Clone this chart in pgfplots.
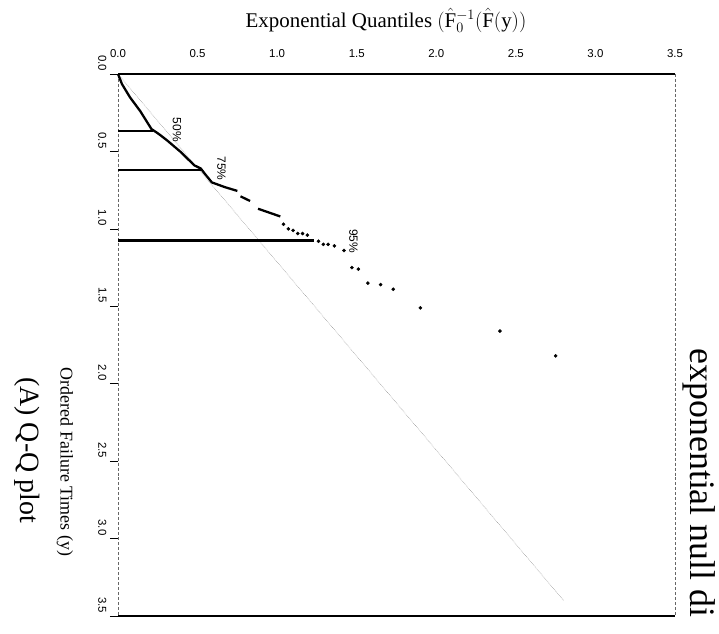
\documentclass[border=0pt]{standalone}
\usepackage{pgfplots}
\pgfplotsset{compat=1.18}
\usepackage{fontspec}
\setmainfont{Liberation Serif}
\setmathrm{Liberation Serif}
\newfontfamily\sansf{Liberation Sans}
\begin{document}
\begin{tikzpicture}
\useasboundingbox (0bp,0bp) rectangle (719bp,-634bp);
\clip (0bp,0bp) rectangle (719bp,-634bp);
\begin{axis}[
  at={(118bp,-74bp)}, anchor=north west,
  width=557bp, height=542bp, scale only axis,
  xmin=0, xmax=3.5, ymin=0, ymax=3.5,
  y dir=reverse,
  separate axis lines,
  x axis line style={line width=1.4pt, black},
  y axis line style={densely dashed, line width=0.5pt, gray!80!black},
  xtick={0,0.5,1,1.5,2,2.5,3,3.5},
  xticklabels={0.0,0.5,1.0,1.5,2.0,2.5,3.0,3.5},
  ytick={0,0.5,1,1.5,2,2.5,3,3.5},
  yticklabels={0.0,0.5,1.0,1.5,2.0,2.5,3.0,3.5},
  xticklabel pos=upper,
  xtick pos=upper,
  ytick pos=left,
  x tick style={draw=none},
  y tick style={black, line width=0.6pt},
  tick align=outside,
  major tick length=8bp,
  xticklabel style={font=\sansf\fontsize{11.5}{12}\selectfont, yshift=5bp},
  yticklabel style={font=\sansf\fontsize{11.5}{12}\selectfont, rotate=-90, anchor=north, xshift=-11bp},
  clip=false,
]
% reference line
\addplot[gray, densely dotted, line width=0.5pt] coordinates {(0,0) (2.80,3.40)};
% percentile lines
\addplot[black, line width=2.2pt] coordinates {(0,0.37) (0.22,0.37)};
\addplot[black, line width=2.2pt] coordinates {(0,0.62) (0.53,0.62)};
\addplot[black, line width=2.2pt] coordinates {(0,1.075) (1.23,1.075)};
% dense part of the quantile curve
\addplot[black, line width=2.3pt] coordinates {
(0,0) (0.025,0.065) (0.075,0.15) (0.14,0.24) (0.21,0.355) (0.26,0.39) (0.31,0.43)
(0.39,0.50) (0.48,0.59) (0.52,0.61) (0.55,0.65) (0.59,0.70) (0.67,0.73) (0.75,0.755)};
\addplot[black, line width=2.3pt] coordinates {(0.77,0.79) (0.83,0.82)};
\addplot[black, line width=2.3pt] coordinates {(0.88,0.87) (0.95,0.895) (1.02,0.92)};
% sparse tail
\addplot[only marks, mark=*, mark size=1.6bp, black] coordinates {
(1.04,0.97) (1.07,1.00) (1.10,1.01) (1.13,1.03) (1.16,1.03) (1.19,1.04)
(1.26,1.08) (1.29,1.10) (1.32,1.10) (1.36,1.11) (1.42,1.14)
(1.47,1.25) (1.51,1.26) (1.57,1.35) (1.65,1.36) (1.73,1.39)
(1.90,1.51) (2.40,1.66) (2.75,1.82)};
\node[rotate=-90, font=\sansf\fontsize{12}{12}\selectfont] at (axis cs:0.37,0.36) {50\%};
\node[rotate=-90, font=\sansf\fontsize{12}{12}\selectfont] at (axis cs:0.65,0.61) {75\%};
\node[rotate=-90, font=\sansf\fontsize{12}{12}\selectfont] at (axis cs:1.48,1.08) {95\%};
\end{axis}
\node[font=\fontsize{21}{24}\selectfont] at (386bp,-20bp) {Exponential Quantiles\ $(\hat{\mathrm{F}}_0^{-1}(\hat{\mathrm{F}}(\mathrm{y}))$};
\node[rotate=-90, font=\fontsize{18}{20}\selectfont] at (65bp,-462bp) {Ordered Failure Times (y)};
\node[rotate=-90, font=\fontsize{28}{32}\selectfont] at (27bp,-450bp) {(A) Q-Q plot};
\node[rotate=-90, anchor=base west, font=\fontsize{36}{40}\selectfont] at (690bp,-345bp) {exponential null di};
\end{tikzpicture}
\end{document}
